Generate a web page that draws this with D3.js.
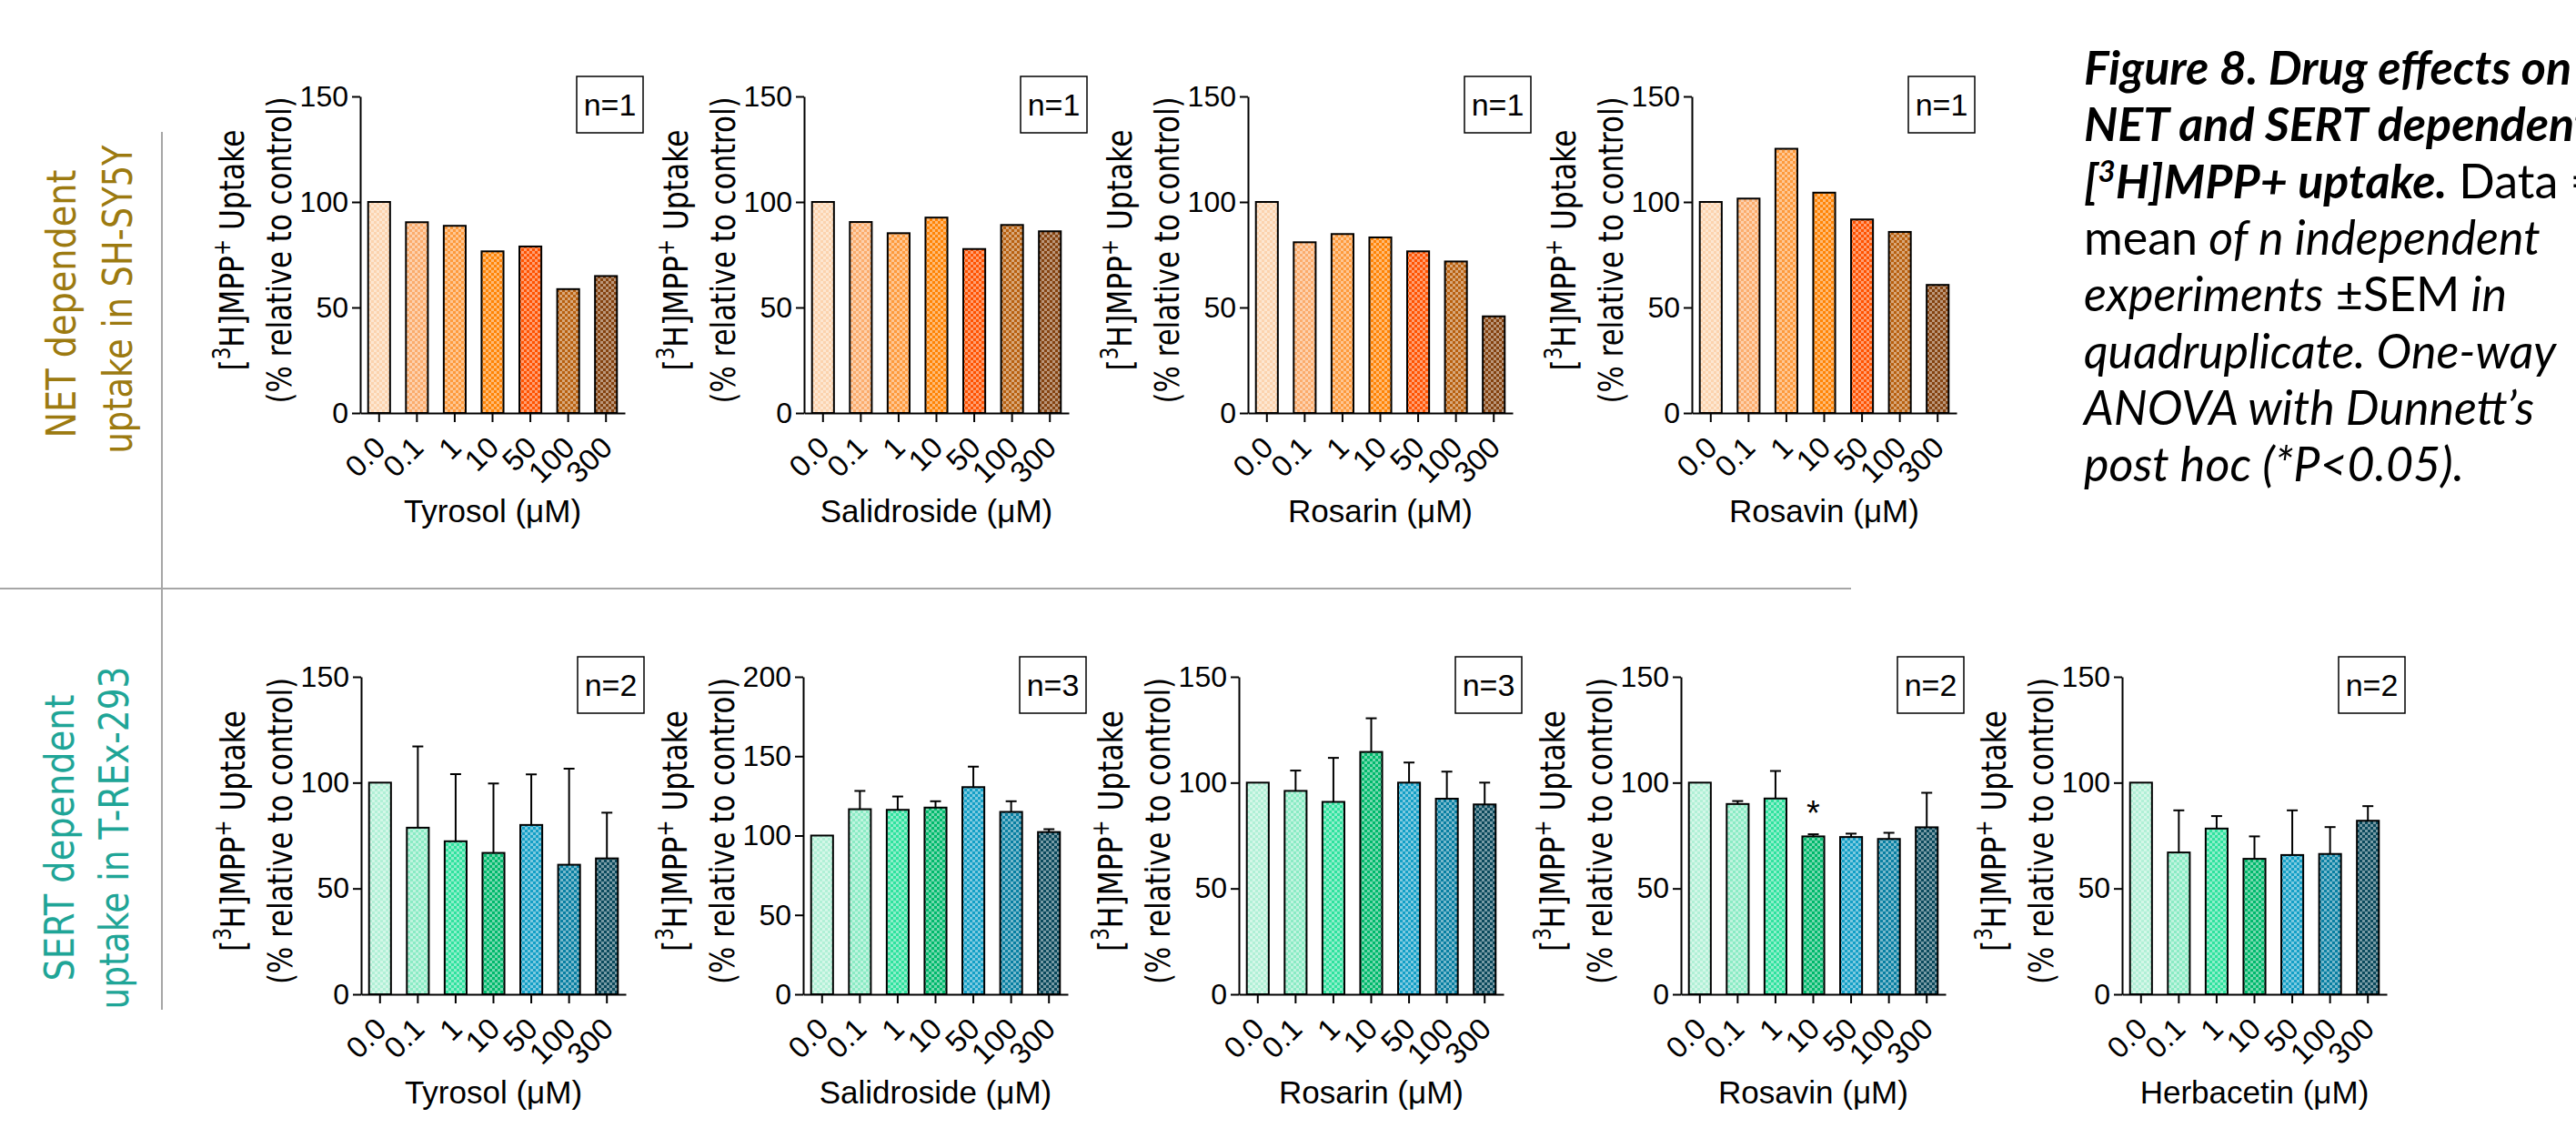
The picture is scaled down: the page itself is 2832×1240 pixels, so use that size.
<!DOCTYPE html>
<html lang="en">
<head>
<meta charset="UTF-8">
<title>Figure 8 - drug effects on uptake</title>
<script src="https://d3js.org/d3.v7.min.js"></script>
<style>
  body { margin: 0; background: #fff; }
</style>
</head>
<body>
<svg id="fig" width="2832" height="1240"></svg>
<script>
// ---- data ----
const doses = ["0.0", "0.1", "1", "10", "50", "100", "300"];

const netDrugs = ["Tyrosol", "Salidroside", "Rosarin", "Rosavin"];
const netN = [1, 1, 1, 1];
const netTyrosol = [100, 90.4, 88.7, 76.6, 78.9, 58.7, 64.9];
const netSalidroside = [100, 90.5, 85.2, 92.6, 77.7, 89.1, 86.1];
const netRosarin = [100, 80.9, 84.8, 83.2, 76.6, 71.8, 45.8];
const netRosavin = [100, 101.6, 125.2, 104.4, 91.7, 85.8, 60.7];

const sertDrugs = ["Tyrosol", "Salidroside", "Rosarin", "Rosavin", "Herbacetin"];
const sertN = [2, 3, 3, 2, 2];
const sertMax = [150, 200, 150, 150, 150];
const sertMeans = [
  [100, 78.7, 72.3, 66.8, 80.0, 61.2, 64.2],
  [100, 116.6, 116.2, 117.6, 130.5, 114.9, 102.2],
  [100, 96.1, 90.9, 114.5, 100, 92.4, 89.7],
  [100, 89.9, 92.5, 74.6, 74.3, 73.4, 78.9],
  [100, 67.0, 78.3, 64.0, 65.8, 66.3, 82.0]
];
const sertSem = [
  [0, 38.4, 31.7, 32.8, 23.9, 45.4, 21.6],
  [0, 11.5, 8.4, 4.0, 12.9, 6.7, 1.8],
  [0, 9.6, 20.8, 15.9, 9.5, 12.8, 10.3],
  [0, 1.4, 13.0, 1.0, 1.6, 2.9, 16.3],
  [0, 19.9, 5.9, 10.6, 21.1, 12.7, 6.9]
];
// significant bar (Rosavin 10 uM in SERT row)
const sertStars = [null, null, null, "10", null];

const ticks150 = [0, 50, 100, 150];
const ticks200 = [0, 50, 100, 150, 200];

const netColors = ["#fcd3ae", "#fbac6c", "#fd9a3c", "#ff8405", "#ff5200", "#b8600f", "#84420f"];
const sertColors = ["#b0f0d6", "#8aebc4", "#2fe29e", "#00b96c", "#139fc6", "#087fa2", "#0a495c"];

const captionLines = [
  [["Figure 8. Drug effects on", "bi"]],
  [["NET and SERT dependent", "bi"]],
  [["[", "bi"], ["3", "sup"], ["H]MPP+ uptake.", "bi"], [" Data =", "r"]],
  [["mean", "r"], [" of n independent", "i"]],
  [["experiments", "i"], [" \u00B1SEM", "r"], [" in", "i"]],
  [["quadruplicate. One-way", "i"]],
  [["ANOVA with Dunnett\u2019s", "i"]],
  [["post hoc (*P<0.05).", "i"]]
];

// ---- layout ----
const W = 2832, H = 1240;
const plotW = 291;
const topRow = { y0: 454, yTop: 106, xs: [396, 884, 1372, 1860] };
const botRow = { y0: 1093, yTop: 744, xs: [397, 883, 1362, 1848, 2333] };
const axisFont = '"Liberation Sans", Arial, sans-serif';
const titleFont = '"DejaVu Sans", sans-serif';

const svg = d3.select('#fig');
svg.append('rect').attr('width', W).attr('height', H).attr('fill', '#fff');

// checker fills
const defs = svg.append('defs');
function checker(id, color) {
  const light = d3.interpolateRgb(color, '#ffffff')(0.45);
  const p = defs.append('pattern').attr('id', id)
    .attr('patternUnits', 'userSpaceOnUse').attr('width', 6).attr('height', 6);
  p.append('rect').attr('width', 6).attr('height', 6).attr('fill', light);
  p.append('rect').attr('width', 3).attr('height', 3).attr('fill', color);
  p.append('rect').attr('x', 3).attr('y', 3).attr('width', 3).attr('height', 3).attr('fill', color);
}
netColors.forEach((c, i) => checker('net' + i, c));
sertColors.forEach((c, i) => checker('sert' + i, c));

function drawChart(cfg) {
  const g = svg.append('g').attr('transform', `translate(${cfg.x},0)`);
  const x = d3.scaleBand().domain(doses).range([0, plotW]).paddingInner(0.42).paddingOuter(0.21);
  const y = d3.scaleLinear().domain([0, cfg.yMax]).range([cfg.y0, cfg.yTop]);

  // error bars (upper only)
  if (cfg.sem) {
    const eb = g.append('g').attr('stroke', '#000').attr('stroke-width', 2);
    cfg.means.forEach((m, i) => {
      if (!cfg.sem[i]) return;
      const cx = x(doses[i]) + x.bandwidth() / 2;
      eb.append('line').attr('x1', cx).attr('x2', cx).attr('y1', y(m)).attr('y2', y(m + cfg.sem[i]));
      eb.append('line').attr('x1', cx - 6).attr('x2', cx + 6)
        .attr('y1', y(m + cfg.sem[i])).attr('y2', y(m + cfg.sem[i]));
    });
  }

  g.selectAll('rect.bar').data(cfg.means).join('rect')
    .attr('class', 'bar')
    .attr('x', (d, i) => x(doses[i]))
    .attr('y', d => y(d))
    .attr('width', x.bandwidth())
    .attr('height', d => y(0) - y(d))
    .attr('fill', (d, i) => `url(#${cfg.pal}${i})`)
    .attr('stroke', '#000').attr('stroke-width', 2);

  // axes
  const ya = g.append('g').call(d3.axisLeft(y).tickValues(cfg.ticks).tickSize(9).tickSizeOuter(0).tickPadding(4));
  const xa = g.append('g').attr('transform', `translate(0,${cfg.y0})`)
    .call(d3.axisBottom(x).tickSize(10).tickSizeOuter(0));
  [ya, xa].forEach(a => {
    a.attr('font-family', axisFont).attr('font-size', 32);
    a.selectAll('path, line').attr('stroke', '#000').attr('stroke-width', 2);
    a.selectAll('text').attr('fill', '#000');
  });
  xa.selectAll('.tick text')
    .attr('x', 0).attr('y', 0).attr('dy', 0)
    .attr('font-size', 33)
    .attr('text-anchor', 'end')
    .attr('transform', 'translate(9,40) rotate(-45)');

  // y title, two lines
  const midY = (cfg.y0 + cfg.yTop) / 2 - 5;
  const t1 = g.append('text')
    .attr('transform', `translate(-142,${midY}) rotate(-90)`)
    .attr('text-anchor', 'middle').attr('dy', '0.36em')
    .attr('font-family', titleFont).attr('font-size', 38)
    .attr('textLength', 265).attr('lengthAdjust', 'spacingAndGlyphs');
  t1.append('tspan').text('[');
  t1.append('tspan').attr('dy', -15).attr('font-size', 26).text('3');
  t1.append('tspan').attr('dy', 15).text('H]MPP');
  t1.append('tspan').attr('dy', -15).attr('font-size', 26).text('+');
  t1.append('tspan').attr('dy', 15).text(' Uptake');
  g.append('text')
    .attr('transform', `translate(-90,${midY}) rotate(-90)`)
    .attr('text-anchor', 'middle').attr('dy', '0.36em')
    .attr('font-family', titleFont).attr('font-size', 38)
    .attr('textLength', 337).attr('lengthAdjust', 'spacingAndGlyphs')
    .text('(% relative to control)');

  // x title
  g.append('text').attr('x', plotW / 2).attr('y', cfg.y0 + 120)
    .attr('text-anchor', 'middle').attr('font-family', axisFont).attr('font-size', 35)
    .text(`${cfg.drug} (\u03BCM)`);

  // n box
  g.append('rect').attr('x', 238).attr('y', cfg.yTop - 22).attr('width', 73).attr('height', 62)
    .attr('fill', '#fff').attr('stroke', '#000').attr('stroke-width', 1.5);
  g.append('text').attr('x', 274.5).attr('y', cfg.yTop + 9).attr('dy', '0.35em')
    .attr('text-anchor', 'middle').attr('font-family', axisFont).attr('font-size', 34)
    .text(`n=${cfg.n}`);

  // significance
  if (cfg.star) {
    const i = doses.indexOf(cfg.star);
    const m = cfg.means[i] + cfg.sem[i];
    g.append('text').attr('x', x(cfg.star) + x.bandwidth() / 2).attr('y', y(m) - 10)
      .attr('text-anchor', 'middle').attr('font-family', axisFont).attr('font-size', 38).text('*');
  }
}

const netMeans = [netTyrosol, netSalidroside, netRosarin, netRosavin];
netDrugs.forEach((d, k) => drawChart({
  x: topRow.xs[k], y0: topRow.y0, yTop: topRow.yTop, yMax: 150, ticks: ticks150,
  means: netMeans[k], sem: null, pal: 'net', drug: d, n: netN[k]
}));
sertDrugs.forEach((d, k) => drawChart({
  x: botRow.xs[k], y0: botRow.y0, yTop: botRow.yTop, yMax: sertMax[k],
  ticks: sertMax[k] === 200 ? ticks200 : ticks150,
  means: sertMeans[k], sem: sertSem[k], pal: 'sert', drug: d, n: sertN[k], star: sertStars[k]
}));

// separators
svg.append('line').attr('x1', 178).attr('x2', 178).attr('y1', 145).attr('y2', 1110)
  .attr('stroke', '#a6a6a6').attr('stroke-width', 2);
svg.append('line').attr('x1', 0).attr('x2', 2035).attr('y1', 647).attr('y2', 647)
  .attr('stroke', '#a6a6a6').attr('stroke-width', 2);

// row labels: [text, centre x, centre y, length]
function rowLabel(lines, color) {
  lines.forEach(([s, cx, cy, len]) => {
    svg.append('text')
      .attr('transform', `translate(${cx},${cy}) rotate(-90)`)
      .attr('text-anchor', 'middle').attr('dy', '0.36em')
      .attr('font-family', titleFont).attr('font-size', 44)
      .attr('textLength', len).attr('lengthAdjust', 'spacingAndGlyphs')
      .attr('fill', color).text(s);
  });
}
rowLabel([["NET dependent", 67, 334, 295], ["uptake in SH-SY5Y", 129, 329, 339]], '#9c7a10');
rowLabel([["SERT dependent", 65, 921, 315], ["uptake in T-REx-293", 125, 921, 377]], '#1fa597');

// caption (runs into the right edge, as in the original figure)
const cap = svg.append('g');
captionLines.forEach((parts, li) => {
  const t = cap.append('text').attr('x', 2291).attr('y', 93 + li * 62.3)
    .attr('font-family', 'Lato, "Open Sans", sans-serif').attr('font-size', 52).attr('fill', '#000');
  let raised = false;
  parts.forEach(([s, st]) => {
    const sp = t.append('tspan').text(s);
    if (st === 'bi') sp.attr('font-weight', 'bold').attr('font-style', 'italic');
    if (st === 'i') sp.attr('font-style', 'italic');
    if (st === 'sup') {
      sp.attr('font-size', 33).attr('dy', -18).attr('font-weight', 'bold').attr('font-style', 'italic');
      raised = true;
    } else if (raised) {
      sp.attr('dy', 18);
      raised = false;
    }
  });
});
</script>
</body>
</html>
